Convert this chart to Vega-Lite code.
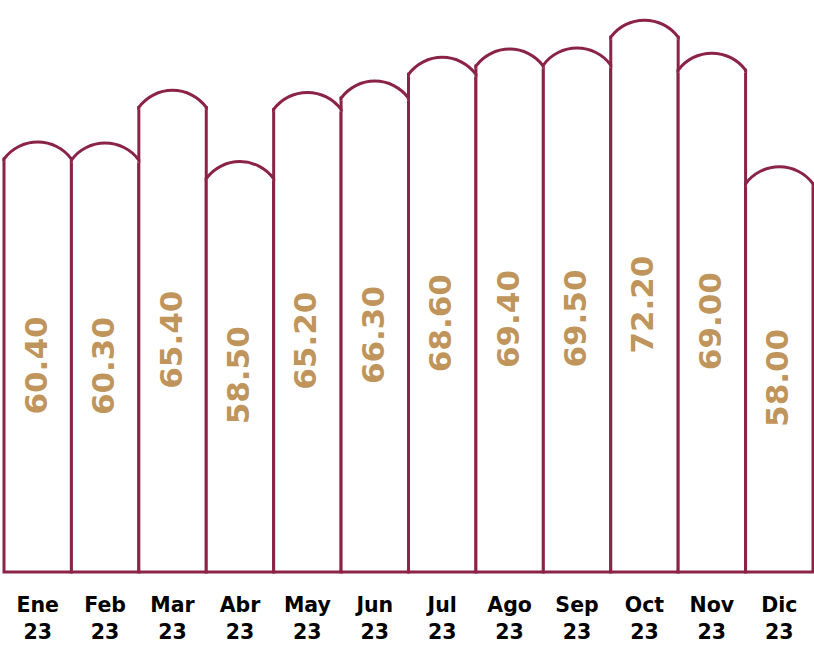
{
  "$schema": "https://vega.github.io/schema/vega-lite/v6.json",
  "autosize": "none",
  "width": 809,
  "height": 572,
  "padding": {"left": 4, "top": 0, "right": 1, "bottom": 73},
  "background": "white",
  "config": {"view": {"stroke": null}},
  "data": {
    "values": [
      {"mes": "Ene 23", "valor": 60.4},
      {"mes": "Feb 23", "valor": 60.3},
      {"mes": "Mar 23", "valor": 65.4},
      {"mes": "Abr 23", "valor": 58.5},
      {"mes": "May 23", "valor": 65.2},
      {"mes": "Jun 23", "valor": 66.3},
      {"mes": "Jul 23", "valor": 68.6},
      {"mes": "Ago 23", "valor": 69.4},
      {"mes": "Sep 23", "valor": 69.5},
      {"mes": "Oct 23", "valor": 72.2},
      {"mes": "Nov 23", "valor": 69.0},
      {"mes": "Dic 23", "valor": 58.0}
    ]
  },
  "encoding": {
    "x": {
      "field": "mes",
      "type": "ordinal",
      "sort": null,
      "scale": {"paddingInner": 0, "paddingOuter": 0},
      "axis": {
        "title": null,
        "domain": false,
        "ticks": false,
        "labelAngle": 0,
        "labelExpr": "split(datum.label, ' ')",
        "labelFont": "DejaVu Sans",
        "labelFontWeight": "bold",
        "labelFontSize": 20.5,
        "labelColor": "#000000",
        "labelLineHeight": 27,
        "labelPadding": 23,
        "labelBaseline": "top",
        "zindex": 1
      }
    }
  },
  "layer": [
    {
      "mark": {"type": "bar", "fill": "white", "stroke": "#8a2346", "strokeWidth": 3},
      "encoding": {
        "y": {"field": "valor", "type": "quantitative", "scale": {"domain": [20.4, 75.8], "zero": false, "nice": false}, "axis": null},
        "y2": {"datum": 20.4}
      }
    },
    {
      "mark": {
        "type": "point",
        "shape": "M -1 0.07 L -1 0 A 1.243 1.243 0 0 1 1 0 L 1 0.07",
        "size": 4545,
        "filled": true,
        "fill": "white",
        "stroke": "#8a2346",
        "strokeWidth": 3,
        "opacity": 1,
        "fillOpacity": 1,
        "strokeOpacity": 1
      },
      "encoding": {
        "y": {"field": "valor", "type": "quantitative", "scale": {"domain": [20.4, 75.8], "zero": false, "nice": false}, "axis": null}
      }
    },
    {
      "mark": {
        "type": "text",
        "angle": 270,
        "align": "center",
        "baseline": "middle",
        "font": "DejaVu Sans",
        "fontWeight": "bold",
        "fontSize": 31,
        "color": "#bf955b"
      },
      "encoding": {
        "y": {"field": "valor", "type": "quantitative", "scale": {"domain": [20.4, 131.2], "zero": false, "nice": false}, "axis": null},
        "text": {"field": "valor", "type": "quantitative", "format": ".2f"}
      }
    }
  ],
  "resolve": {"scale": {"y": "independent"}}
}
